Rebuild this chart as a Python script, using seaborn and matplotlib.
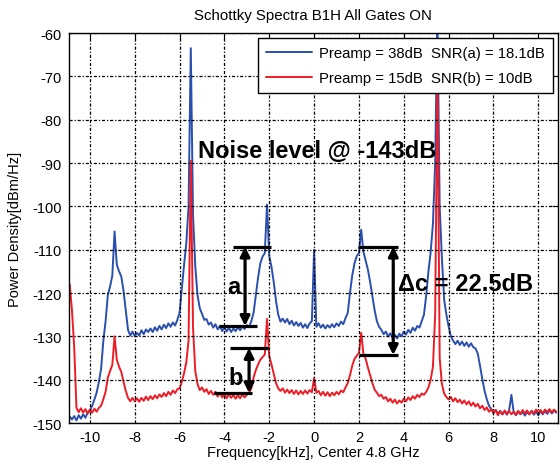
import numpy as np
import pandas as pd
import matplotlib
matplotlib.use("Agg")
import matplotlib.pyplot as plt
import seaborn as sns

# ---------------- data ----------------
freq_start, freq_stop, freq_step = -10.9, 10.8, 0.1
freq_khz = np.round(np.arange(freq_start, freq_stop + freq_step / 2, freq_step), 1)

blue_38db = [
    -148.5, -149.2, -148.4, -149.4, -148.2, -149.0, -148.0, -148.8, -147.6, -147.2,  # -10.9 .. -10.0
    -146.0, -144.6, -143.0, -140.5, -137.5, -131.0, -126.5, -120.5, -118.5, -116.0,  # -9.9 .. -9.0
    -105.8, -113.5, -115.0, -116.2, -119.5, -124.0, -128.5, -129.8, -128.9, -130.0,  # -8.9 .. -8.0
    -129.2, -129.8, -128.6, -129.5, -128.4, -129.0, -128.2, -129.0, -127.9, -128.7,  # -7.9 .. -7.0
    -127.6, -128.4, -127.3, -128.1, -127.0, -127.8, -126.8, -127.5, -126.2, -124.5,  # -6.9 .. -6.0
    -119.0, -113.5, -108.5, -100.0, -63.5, -102.0, -113.8, -120.5, -123.5, -124.8,   # -5.9 .. -5.0
    -126.2, -126.0, -127.3, -126.8, -128.0, -127.2, -128.4, -127.6, -128.8, -127.9,  # -4.9 .. -4.0
    -128.9, -128.0, -129.0, -128.2, -128.8, -127.9, -128.6, -127.7, -128.3, -127.4,  # -3.9 .. -3.0
    -127.9, -126.5, -124.6, -120.5, -116.5, -113.2, -111.6, -110.8, -99.6, -111.5,   # -2.9 .. -2.0
    -114.0, -117.5, -121.8, -125.0, -126.6, -125.9, -126.8, -126.0, -127.2, -126.4,  # -1.9 .. -1.0
    -127.5, -126.7, -127.6, -126.9, -128.0, -127.2, -128.1, -127.0, -126.5, -110.0,  # -0.9 .. 0.0
    -127.8, -127.0, -128.0, -127.3, -128.2, -127.4, -128.0, -127.2, -127.9, -127.0,  # 0.1 .. 1.0
    -127.6, -126.6, -127.2, -125.8, -124.6, -120.0, -116.0, -113.2, -111.5, -110.8,  # 1.1 .. 2.0
    -105.4, -110.5, -112.5, -114.6, -117.5, -120.8, -124.0, -126.5, -127.8, -128.5,  # 2.1 .. 3.0
    -129.5, -128.9, -130.0, -129.3, -130.4, -129.6, -130.5, -129.4, -130.0, -128.9,  # 3.1 .. 4.0
    -129.6, -128.5, -129.2, -128.0, -128.7, -127.6, -128.0, -126.5, -125.0, -120.5,  # 4.1 .. 5.0
    -115.0, -110.5, -104.0, -90.0, -55.0, -100.0, -112.0, -121.5, -125.0, -127.7,    # 5.1 .. 6.0
    -130.0, -131.0, -131.8, -131.0, -132.0, -131.2, -132.2, -131.4, -132.4, -131.6,  # 6.1 .. 7.0
    -132.5, -132.8, -134.0, -136.8, -139.8, -142.5, -144.5, -146.0, -146.8, -147.5,  # 7.1 .. 8.0
    -147.0, -147.9, -147.2, -148.0, -147.3, -148.1, -147.0, -143.5, -147.4, -148.2,  # 8.1 .. 9.0
    -147.3, -148.0, -147.4, -148.3, -147.5, -148.0, -147.2, -148.1, -147.4, -148.2,  # 9.1 .. 10.0
    -147.3, -148.0, -147.2, -147.9, -147.0, -147.8, -147.1, -147.6,                  # 10.1 .. 10.8
]

red_15db = [
    -118.0, -124.0, -132.5, -146.5, -147.5, -146.6, -147.6, -146.8, -147.8, -146.9,  # -10.9 .. -10.0
    -147.6, -146.7, -147.4, -146.5, -146.0, -144.5, -142.8, -139.5, -138.0, -136.6,  # -9.9 .. -9.0
    -130.0, -135.4, -137.0, -138.2, -140.5, -142.6, -144.2, -145.0, -144.2, -145.0,  # -8.9 .. -8.0
    -144.3, -145.1, -144.2, -144.9, -143.9, -144.7, -143.8, -144.5, -143.6, -144.3,  # -7.9 .. -7.0
    -143.4, -144.0, -143.1, -143.8, -142.8, -143.5, -142.5, -143.1, -142.2, -142.0,  # -6.9 .. -6.0
    -140.5, -138.5, -136.0, -131.0, -89.5, -128.0, -138.0, -141.0, -142.4, -141.8,   # -5.9 .. -5.0
    -142.8, -142.2, -143.3, -142.6, -143.5, -142.8, -143.9, -143.0, -144.1, -143.3,  # -4.9 .. -4.0
    -144.3, -143.4, -144.2, -143.5, -144.4, -143.6, -144.3, -143.4, -144.1, -143.5,  # -3.9 .. -3.0
    -143.0, -142.0, -139.5, -137.8, -136.5, -135.4, -134.8, -134.2, -126.0, -134.6,  # -2.9 .. -2.0
    -136.5, -138.6, -140.8, -142.0, -142.6, -142.0, -143.0, -142.3, -143.1, -142.4,  # -1.9 .. -1.0
    -143.3, -142.5, -143.4, -142.6, -143.3, -142.5, -143.2, -142.4, -142.9, -139.6,  # -0.9 .. 0.0
    -143.0, -142.6, -143.6, -142.8, -143.7, -142.9, -143.8, -143.0, -143.6, -142.8,  # 0.1 .. 1.0
    -143.4, -142.5, -142.9, -141.8, -140.8, -139.0, -136.8, -135.2, -134.5, -133.8,  # 1.1 .. 2.0
    -129.2, -134.0, -135.2, -137.2, -139.0, -140.8, -142.3, -143.0, -143.8, -143.5,  # 2.1 .. 3.0
    -144.4, -144.0, -145.0, -144.4, -145.3, -144.6, -145.5, -144.8, -145.3, -144.4,  # 3.1 .. 4.0
    -145.0, -144.1, -144.7, -143.8, -144.4, -143.5, -144.0, -143.2, -143.5, -142.8,  # 4.1 .. 5.0
    -141.8, -140.0, -137.0, -125.0, -68.0, -135.0, -141.0, -143.2, -144.0, -144.6,   # 5.1 .. 6.0
    -144.0, -145.0, -144.3, -145.2, -144.6, -145.5, -144.8, -145.7, -145.0, -146.0,  # 6.1 .. 7.0
    -145.3, -146.2, -145.6, -146.6, -146.0, -147.0, -146.4, -147.4, -146.8, -147.8,  # 7.1 .. 8.0
    -147.0, -148.2, -147.3, -148.0, -147.1, -147.9, -147.2, -148.0, -147.4, -148.1,  # 8.1 .. 9.0
    -147.2, -147.9, -147.0, -147.8, -147.1, -148.0, -147.2, -147.8, -146.9, -147.7,  # 9.1 .. 10.0
    -147.0, -147.8, -146.9, -147.5, -146.8, -147.6, -146.9, -147.4,                  # 10.1 .. 10.8
]

series_labels = ["Preamp = 38dB  SNR(a) = 18.1dB", "Preamp = 15dB  SNR(b) = 10dB"]
x_ticks = [-10, -8, -6, -4, -2, 0, 2, 4, 6, 8, 10]
y_ticks = [-150, -140, -130, -120, -110, -100, -90, -80, -70, -60]

# annotation values (kHz, dB)
a_top, a_bottom = -109.3, -127.6
b_top, b_bottom = -132.7, -143.1
c_top, c_bottom = -109.3, -134.3

# ---------------- style ----------------
sns.set_style("white")
plt.rcParams["font.family"] = ["Liberation Sans", "DejaVu Sans"]
plt.rcParams["axes.unicode_minus"] = False
for k in ["text.color", "axes.labelcolor", "xtick.color", "ytick.color"]:
    plt.rcParams[k] = "black"

BLUE = "#2a4fae"
RED = "#ee1c25"

fig = plt.figure(figsize=(5.6, 4.64), dpi=100)
ax = fig.add_axes([0.1225, 0.0862, 0.874, 0.8405])

df = pd.DataFrame({"freq": list(freq_khz) * 2,
                   "power": blue_38db + red_15db,
                   "series": [series_labels[0]] * len(freq_khz) + [series_labels[1]] * len(freq_khz)})

sns.lineplot(data=df, x="freq", y="power", hue="series", palette=[BLUE, RED],
             estimator=None, sort=False, linewidth=1.4, ax=ax, legend=True)

ax.set_xlim(-10.95, 10.88)
ax.set_ylim(-150, -60)
ax.set_xticks(x_ticks)
ax.set_yticks(y_ticks)
ax.tick_params(direction="in", length=4, width=0.8, top=True, right=True,
               labelsize=10.5, colors="black", pad=5)
for s in ax.spines.values():
    s.set_visible(True)
    s.set_color("black")
    s.set_linewidth(1.0)
ax.grid(True, color="black", linestyle=(0, (2.5, 1.5, 1, 1.5)), linewidth=0.9)
ax.set_axisbelow(False)

ax.set_title("Schottky Spectra B1H All Gates ON", fontsize=10.8, pad=10)
ax.set_xlabel("Frequency[kHz], Center 4.8 GHz", fontsize=10.5, labelpad=1)
ax.set_ylabel("Power Density[dBm/Hz]", fontsize=10.5, labelpad=7)

leg = ax.legend(loc="upper right", fontsize=10.7, frameon=True, fancybox=False,
                edgecolor="black", framealpha=1.0, handlelength=3.1, handletextpad=0.45,
                borderaxespad=0.35, borderpad=0.55, labelspacing=0.7)
leg.get_frame().set_linewidth(1.0)
for line in leg.get_lines():
    line.set_linewidth(1.4)

# text annotations
ann_fs = 17
ax.text(-5.2, -87.2, "Noise level @ -143dB", fontsize=ann_fs, fontweight="bold",
        ha="left", va="center")
ax.text(3.75, -117.9, "\u0394c = 22.5dB", fontsize=ann_fs, fontweight="bold",
        ha="left", va="center")
ax.text(-3.6, -118.6, "a", fontsize=ann_fs, fontweight="bold", ha="center", va="center")
ax.text(-3.5, -139.4, "b", fontsize=ann_fs, fontweight="bold", ha="center", va="center")

lw_ann = 2.3
# a
ax.plot([-3.61, -1.93], [a_top, a_top], color="black", lw=lw_ann, solid_capstyle="butt")
ax.plot([-4.23, -2.55], [a_bottom, a_bottom], color="black", lw=lw_ann, solid_capstyle="butt")
ax.annotate("", xy=(-3.08, a_bottom), xytext=(-3.08, a_top),
            arrowprops=dict(arrowstyle="<|-|>", color="black", lw=lw_ann,
                            mutation_scale=14, shrinkA=0, shrinkB=0))
# b
ax.plot([-3.75, -2.06], [b_top, b_top], color="black", lw=lw_ann, solid_capstyle="butt")
ax.plot([-4.45, -2.76], [b_bottom, b_bottom], color="black", lw=lw_ann, solid_capstyle="butt")
ax.annotate("", xy=(-2.9, b_bottom), xytext=(-2.9, b_top),
            arrowprops=dict(arrowstyle="<|-|>", color="black", lw=lw_ann,
                            mutation_scale=14, shrinkA=0, shrinkB=0))
# delta c
ax.plot([1.97, 3.72], [c_top, c_top], color="black", lw=lw_ann, solid_capstyle="butt")
ax.plot([2.02, 3.72], [c_bottom, c_bottom], color="black", lw=lw_ann, solid_capstyle="butt")
ax.annotate("", xy=(3.53, c_bottom), xytext=(3.53, c_top),
            arrowprops=dict(arrowstyle="<|-|>", color="black", lw=lw_ann,
                            mutation_scale=14, shrinkA=0, shrinkB=0))

fig.savefig("out.png", dpi=100)
